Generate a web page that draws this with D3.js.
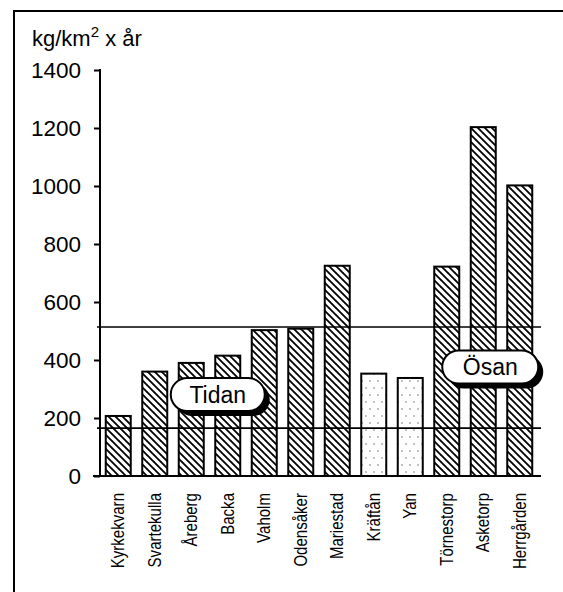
<!DOCTYPE html>
<html>
<head>
<meta charset="utf-8">
<script src="https://cdn.jsdelivr.net/npm/d3@7"></script>
<style>
  html, body { margin: 0; padding: 0; background: #fff; }
  svg { display: block; font-family: "Liberation Sans", Arial, Helvetica, sans-serif; }
</style>
</head>
<body>
<svg id="chart" width="563" height="592"></svg>
<script>
// Sampling sites (bar order)
const sites = ["Kyrkekvarn", "Svartekulla", "Åreberg", "Backa", "Vaholm", "Odensåker",
               "Mariestad", "Kräftån", "Yan", "Törnestorp", "Asketorp", "Herrgården"];
// Transport per site, kg/km² x år
const loads = [207, 360, 390, 415, 503, 508, 725, 353, 338, 722, 1203, 1002];
// Fill style per bar: "hatch" or "dots"
const fills = ["hatch", "hatch", "hatch", "hatch", "hatch", "hatch",
               "hatch", "dots", "dots", "hatch", "hatch", "hatch"];
// Horizontal reference levels
const refLevels = [514, 165];
// Y ticks
const yTicks = [0, 200, 400, 600, 800, 1000, 1200, 1400];
// Callout labels: text, vertical centre (in data units) and the site they sit over
const callouts = [
  { text: "Tidan", value: 281, site: "Backa", dx: -10 },
  { text: "Ösan",  value: 376, site: "Asketorp", dx: 7 }
];

const svg = d3.select("#chart");
const plotLeft = 100, plotRight = 538, plotTop = 70, plotBottom = 476;

const x = d3.scaleBand().domain(sites).range([plotLeft, plotRight])
  .paddingInner(0.315).paddingOuter(0.1575);
const y = d3.scaleLinear().domain([0, 1400]).range([plotBottom, plotTop]);

// Fill patterns
const defs = svg.append("defs");
const hatch = defs.append("pattern").attr("id", "hatch")
  .attr("patternUnits", "userSpaceOnUse").attr("width", 7).attr("height", 7);
hatch.append("rect").attr("width", 7).attr("height", 7).attr("fill", "#fff");
hatch.append("path").attr("d", "M-1,-1 L8,8 M-4.5,2.5 L0.5,7.5 M2.5,-4.5 L7.5,0.5")
  .attr("stroke", "#000").attr("stroke-width", 1.8);

const dots = defs.append("pattern").attr("id", "dots")
  .attr("patternUnits", "userSpaceOnUse").attr("width", 8).attr("height", 14);
dots.append("rect").attr("width", 8).attr("height", 14).attr("fill", "#fff");
dots.append("circle").attr("cx", 2).attr("cy", 3).attr("r", 0.7).attr("fill", "#555");
dots.append("circle").attr("cx", 6).attr("cy", 10).attr("r", 0.7).attr("fill", "#555");

// Outer frame
svg.append("rect").attr("x", 14).attr("y", 11).attr("width", 600).attr("height", 640)
  .attr("fill", "none").attr("stroke", "#000").attr("stroke-width", 2);

// Unit label
const unit = svg.append("text").attr("x", 32).attr("y", 46)
  .attr("font-size", 22).attr("fill", "#000");
unit.append("tspan").text("kg/km");
unit.append("tspan").attr("font-size", 15).attr("dy", -9).text("2");
unit.append("tspan").attr("dy", 9).text("\u00a0x år");

// Bars
svg.append("g").selectAll("rect").data(sites).join("rect")
  .attr("x", d => x(d))
  .attr("y", (d, i) => y(loads[i]))
  .attr("width", x.bandwidth())
  .attr("height", (d, i) => y(0) - y(loads[i]))
  .attr("fill", (d, i) => `url(#${fills[i]})`)
  .attr("stroke", "#000").attr("stroke-width", 2);

// Reference lines
svg.append("g").selectAll("line").data(refLevels).join("line")
  .attr("x1", plotLeft - 3).attr("x2", 541)
  .attr("y1", d => y(d)).attr("y2", d => y(d))
  .attr("stroke", "#000").attr("stroke-width", 1.6);

// Y axis
const yAxis = d3.axisLeft(y).tickValues(yTicks).tickSize(6).tickPadding(13)
  .tickFormat(d3.format("d"));
const gy = svg.append("g").attr("transform", `translate(${plotLeft},0)`).call(yAxis);
gy.select(".domain").remove();
gy.selectAll(".tick line").attr("stroke", "#000").attr("stroke-width", 2);
gy.selectAll(".tick text").attr("font-size", 22.5).attr("fill", "#000")
  .attr("font-family", "'Liberation Sans', Arial, sans-serif");
svg.append("line").attr("x1", plotLeft).attr("x2", plotLeft).attr("y1", plotTop - 1).attr("y2", plotBottom)
  .attr("stroke", "#000").attr("stroke-width", 2);
// Baseline
svg.append("line").attr("x1", plotLeft - 7).attr("x2", 541).attr("y1", plotBottom).attr("y2", plotBottom)
  .attr("stroke", "#000").attr("stroke-width", 2);

// Category labels (rotated, slightly condensed)
svg.append("g").selectAll("text").data(sites).join("text")
  .attr("transform", d => `translate(${x(d) + x.bandwidth() / 2 + 6},493) rotate(-90) scale(0.86,1)`)
  .attr("text-anchor", "end")
  .attr("font-size", 17.5).attr("fill", "#000")
  .text(d => d);

// Callout pills with drop shadow
const pillW = [94, 96], pillH = 33;
callouts.forEach((c, i) => {
  const cx = x(c.site) + x.bandwidth() / 2 + c.dx;
  const cy = y(c.value);
  const w = pillW[i];
  const g = svg.append("g");
  g.append("rect").attr("x", cx - w / 2 + 5).attr("y", cy - pillH / 2 + 5)
    .attr("width", w).attr("height", pillH).attr("rx", pillH / 2).attr("ry", pillH / 2)
    .attr("fill", "#000");
  g.append("rect").attr("x", cx - w / 2).attr("y", cy - pillH / 2)
    .attr("width", w).attr("height", pillH).attr("rx", pillH / 2).attr("ry", pillH / 2)
    .attr("fill", "#fff").attr("stroke", "#000").attr("stroke-width", 2);
  g.append("text").attr("x", cx).attr("y", cy + 8)
    .attr("text-anchor", "middle").attr("font-size", 23).attr("fill", "#000")
    .text(c.text);
});
</script>
</body>
</html>
